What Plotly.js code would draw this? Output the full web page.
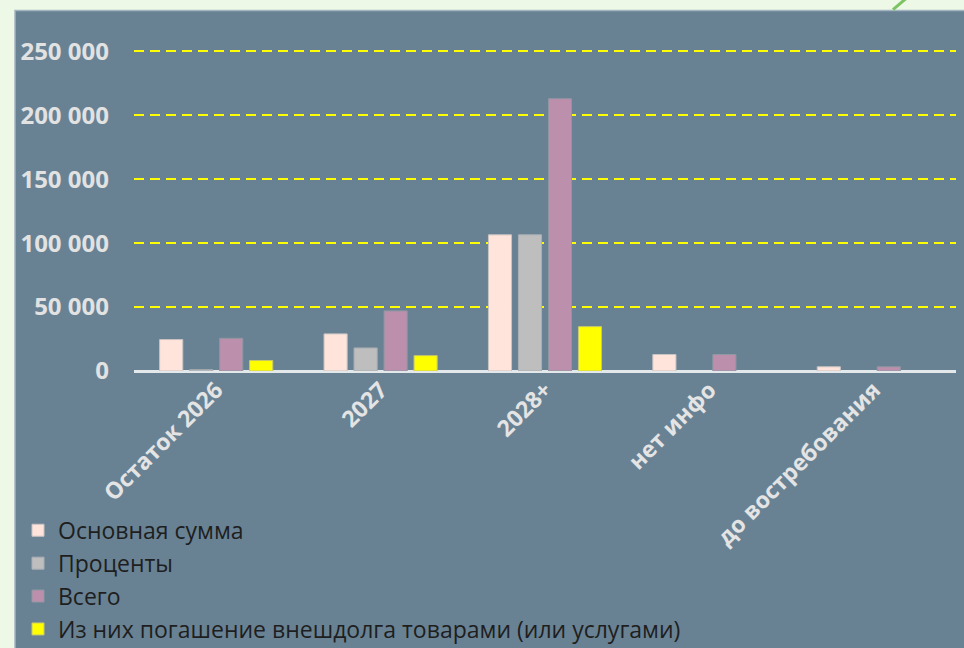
<!DOCTYPE html>
<html>
<head>
<meta charset="utf-8">
<script src="https://cdn.plot.ly/plotly-3.0.1.min.js"></script>
<style>html,body{margin:0;padding:0;background:#EEF8E6;}#chart{width:964px;height:648px;}</style>
</head>
<body>
<div id="chart"></div>
<script>
const categories = ['Остаток 2026', '2027', '2028+', 'нет инфо', 'до востребования'];
const principal = [24600, 29000, 106500, 12900, 3300];
const interest = [1000, 18000, 106500, null, null];
const total = [25600, 47000, 213000, 12900, 3300];
const goods = [8200, 12000, 34700, null, null];
const seriesNames = ['Основная сумма', 'Проценты', 'Всего', 'Из них погашение внешдолга товарами (или услугами)'];
const yTicks = [0, 50000, 100000, 150000, 200000, 250000];

const colors = ['#FFE4DC', '#BEBEBE', '#BC8FAD', '#FFFF00'];
const lineColors = ['#C9C4C2', '#A9AFB4', '#8F97A0', '#C8C86A'];
const series = [principal, interest, total, goods];

const traces = series.map((vals, i) => ({
  type: 'bar',
  name: seriesNames[i],
  x: categories,
  y: vals,
  marker: {color: colors[i], line: {color: lineColors[i], width: 1}},
  hoverinfo: 'skip'
}));

const L = 134, R = 956, B = 371, T = 35.5;
const px = x => (x - L) / (R - L);
const py = y => (B - y) / (B - T);

const layout = {
  width: 964, height: 648,
  margin: {l: L, r: 964 - R, t: T, b: 648 - B, autoexpand: false},
  paper_bgcolor: '#EEF8E6',
  plot_bgcolor: '#688294',
  barmode: 'group',
  bargap: 0.27,
  bargroupgap: 0.23,
  separators: ', ',
  showlegend: true,
  legend: {
    x: px(18), xanchor: 'left',
    y: py(509), yanchor: 'top',
    bgcolor: 'rgba(0,0,0,0)',
    font: {family: 'Open Sans', size: 23, color: '#1E1E1E'},
    traceorder: 'normal'
  },
  xaxis: {
    type: 'category',
    tickangle: -45,
    tickfont: {family: 'Open Sans', size: 23, color: '#E4E4E4', weight: 'bold'},
    showgrid: false,
    showline: false,
    ticks: '',
    zeroline: false
  },
  yaxis: {
    range: [0, 262000],
    tickvals: yTicks,
    tickformat: ',d',
    tickfont: {family: 'Open Sans', size: 24, color: '#E2E2E2', weight: 'bold'},
    ticklabelstandoff: 24,
    showgrid: true,
    gridcolor: '#FFFF00',
    gridwidth: 2,
    griddash: '10px,6px',
    zeroline: true,
    zerolinecolor: '#E3E8EB',
    zerolinewidth: 3,
    ticks: '',
    showline: false
  },
  shapes: [
    {type: 'rect', xref: 'paper', yref: 'paper', layer: 'below',
     x0: px(15), x1: px(975), y0: py(660), y1: py(10),
     fillcolor: '#688294', line: {color: '#A3B4C1', width: 1.5}},
    {type: 'line', xref: 'paper', yref: 'paper',
     x0: px(893), y0: py(9), x1: px(906), y1: py(-2),
     line: {color: '#7CC463', width: 3}}
  ]
};

Plotly.newPlot('chart', traces, layout, {displayModeBar: false, staticPlot: true});
</script>
</body>
</html>
